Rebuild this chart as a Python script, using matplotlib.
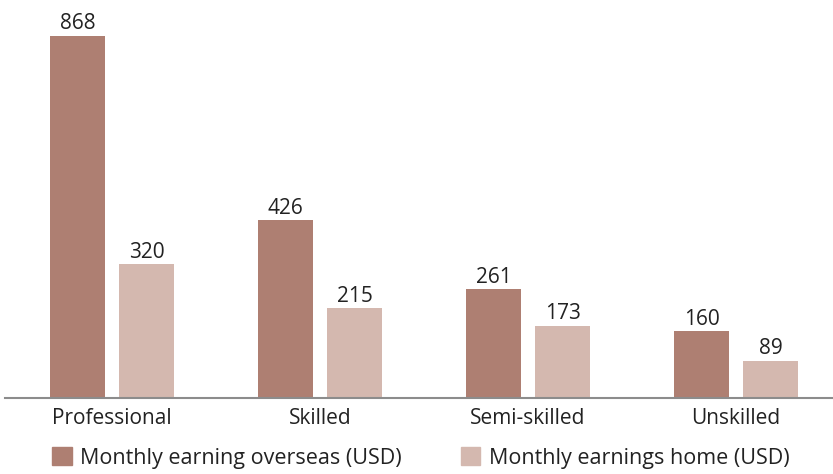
import matplotlib
matplotlib.use("Agg")
import matplotlib.pyplot as plt
import numpy as np
from matplotlib.patches import Patch

categories = ["Professional", "Skilled", "Semi-skilled", "Unskilled"]
overseas = [868, 426, 261, 160]
home = [320, 215, 173, 89]
series_names = ["Monthly earning overseas (USD)", "Monthly earnings home (USD)"]
colors = ["#AE7F72", "#D4B8AF"]

plt.rcParams['font.family'] = ['Open Sans', 'DejaVu Sans']

fig = plt.figure(figsize=(8.33, 4.74), dpi=100)
ax = fig.add_axes([5/833, 76/474, 828/833, 398/474])

x = np.arange(len(categories))
w = 55/208
off = 34.5/208
b1 = ax.bar(x - off, overseas, w, color=colors[0])
b2 = ax.bar(x + off, home, w, color=colors[1])
for b in (b1, b2):
    ax.bar_label(b, padding=1, fontsize=15, color="#222222")

ax.set_xlim((5-112)/208, (833-112)/208)
ax.set_ylim(0, 954)
ax.set_xticks(x)
ax.set_xticklabels(categories, fontsize=15, color="#222222")
ax.tick_params(axis='x', length=0, pad=7)
ax.set_yticks([])
for s in ["top", "right", "left"]:
    ax.spines[s].set_visible(False)
ax.spines["bottom"].set_color("#8c8c8c")
ax.spines["bottom"].set_linewidth(1.5)

handles = [Patch(color=colors[0]), Patch(color=colors[1])]
fig.legend(handles, series_names, loc="lower left", bbox_to_anchor=(33/833, -14/474),
           ncol=2, frameon=False, fontsize=15.5, handlelength=0.9, handleheight=0.9,
           handletextpad=0.4, columnspacing=2.72, labelcolor="#222222")

fig.savefig("out.png", dpi=100)
